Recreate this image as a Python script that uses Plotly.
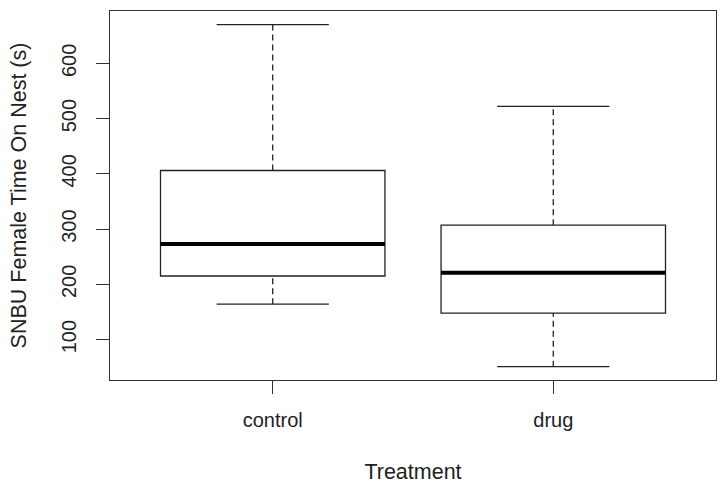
import plotly.graph_objects as go

categories = ["control", "drug"]
positions = [1, 2]
lower_whisker = [164, 51]
q1 = [215, 148]
median = [273, 221]
q3 = [406, 307]
upper_whisker = [670, 522]
y_ticks = [100, 200, 300, 400, 500, 600]

box_width = 0.8
cap_half = 0.2

fig = go.Figure()

fig.add_trace(go.Box(
    x=positions, q1=q1, median=median, q3=q3,
    lowerfence=q1, upperfence=q3,
    width=box_width, fillcolor="white",
    line=dict(color="#222", width=1.3),
    boxpoints=False, showlegend=False, hoverinfo="skip",
))

# whiskers (dashed)
wx, wy = [], []
for p, lo, a, b, hi in zip(positions, lower_whisker, q1, q3, upper_whisker):
    wx += [p, p, None, p, p, None]
    wy += [b, hi, None, lo, a, None]
fig.add_trace(go.Scatter(x=wx, y=wy, mode="lines",
                         line=dict(color="#222", width=1.3, dash="6px,4px"),
                         showlegend=False, hoverinfo="skip"))

# caps
cx, cy = [], []
for p, lo, hi in zip(positions, lower_whisker, upper_whisker):
    cx += [p - cap_half, p + cap_half, None, p - cap_half, p + cap_half, None]
    cy += [hi, hi, None, lo, lo, None]
fig.add_trace(go.Scatter(x=cx, y=cy, mode="lines",
                         line=dict(color="#222", width=1.3),
                         showlegend=False, hoverinfo="skip"))

# medians (thick)
mx, my = [], []
for p, m in zip(positions, median):
    mx += [p - box_width / 2, p + box_width / 2, None]
    my += [m, m, None]
fig.add_trace(go.Scatter(x=mx, y=my, mode="lines",
                         line=dict(color="black", width=4),
                         showlegend=False, hoverinfo="skip"))

font = dict(family="Liberation Sans, Arial, sans-serif", size=20, color="#222")
title_font = dict(family="Liberation Sans, Arial, sans-serif", size=21.5, color="#222")

fig.update_layout(
    width=720, height=487,
    margin=dict(l=110, r=4, t=11, b=107),
    paper_bgcolor="white", plot_bgcolor="white",
    font=font,
    xaxis=dict(
        range=[0.42, 2.58], tickvals=positions, ticktext=categories,
        showgrid=False, zeroline=False, automargin=False,
        showline=True, mirror=True, linecolor="#333", linewidth=1.3,
        ticks="outside", ticklen=13, tickcolor="#333", tickwidth=1.3,
        tickfont=font, ticklabelstandoff=9,
        title=dict(text="Treatment", standoff=33, font=title_font),
    ),
    yaxis=dict(
        range=[26.8, 694.7], tickvals=y_ticks,
        showgrid=False, zeroline=False, automargin=False,
        showline=True, mirror=True, linecolor="#333", linewidth=1.3,
        ticks="outside", ticklen=13, tickcolor="#333", tickwidth=1.3,
        tickangle=-90, tickfont=font, ticklabelstandoff=12,
        title=dict(text="SNBU Female Time On Nest (s)", standoff=25, font=title_font),
    ),
)

fig.write_html("out.html", config={"displayModeBar": False},
               post_script="document.body.style.margin='0';")
